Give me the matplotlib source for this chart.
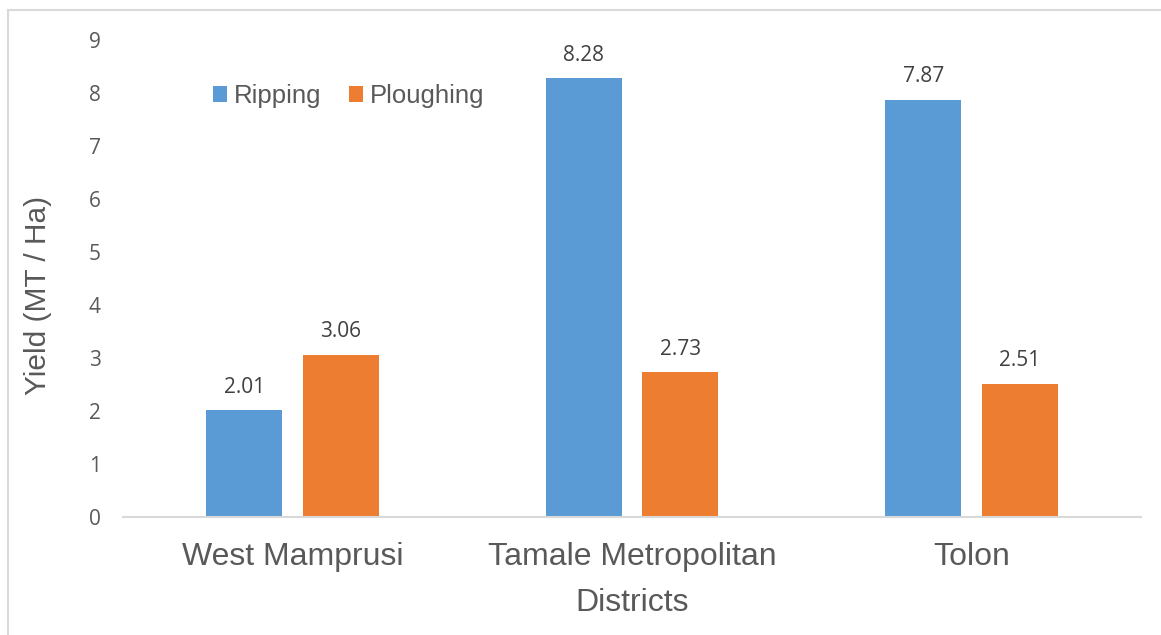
import matplotlib.pyplot as plt
import numpy as np
from matplotlib.patches import Rectangle

districts = ['West Mamprusi', 'Tamale Metropolitan', 'Tolon']
ripping = [2.01, 8.28, 7.87]
ploughing = [3.06, 2.73, 2.51]

blue = '#5b9bd5'
orange = '#ed7d31'
grey = '#595959'

fig = plt.figure(figsize=(11.61, 6.35), dpi=100)
ax = fig.add_axes([0.1059, 0.1858, 0.8769, 0.7512])

# outer chart border
fig.patches.append(Rectangle((8 / 1161, -0.1), 1.2, 1.1 - 10 / 635,
                             transform=fig.transFigure, fill=False,
                             edgecolor='#d9d9d9', linewidth=1.5))

x = np.arange(len(districts))
w = 0.224
b1 = ax.bar(x - 0.142, ripping, w, color=blue, label='Ripping')
b2 = ax.bar(x + 0.142, ploughing, w, color=orange, label='Ploughing')

for bars in (b1, b2):
    for r in bars:
        ax.annotate('%.2f' % r.get_height(), (r.get_x() + r.get_width() / 2, r.get_height()),
                    xytext=(0, 9), textcoords='offset points', ha='center', va='bottom',
                    fontsize=15, color='#404040', family='Open Sans')

ax.set_xlim(-0.5, 2.5)
ax.set_ylim(0, 9)
ax.set_yticks(range(10))
ax.set_xticks(x)
ax.set_xticklabels(districts, fontsize=23, color=grey, family='Liberation Sans')
for t in ax.get_yticklabels():
    t.set_fontsize(15)
    t.set_color(grey)
    t.set_family('Open Sans')
ax.tick_params(axis='both', length=0)
ax.tick_params(axis='x', pad=18)
ax.tick_params(axis='y', pad=16)

for s in ['top', 'right', 'left']:
    ax.spines[s].set_visible(False)
ax.spines['bottom'].set_color('#d9d9d9')
ax.spines['bottom'].set_linewidth(1.5)

ax.set_ylabel('Yield (MT / Ha)', fontsize=21.5, color=grey, family='Liberation Sans')
ax.yaxis.set_label_coords(-0.070, 0.465)
ax.set_xlabel('Districts', fontsize=23, color=grey, family='Liberation Sans')
ax.xaxis.set_label_coords(0.5, -0.148)

leg = fig.legend(loc='center left', bbox_to_anchor=(190 / 1161, 1 - 96 / 635), ncol=2,
                 frameon=False, handlelength=0.55, handleheight=0.55, handletextpad=0.27,
                 columnspacing=1.05, prop={'family': 'Liberation Sans', 'size': 18.5})
for t in leg.get_texts():
    t.set_color(grey)

plt.savefig('out.png')
